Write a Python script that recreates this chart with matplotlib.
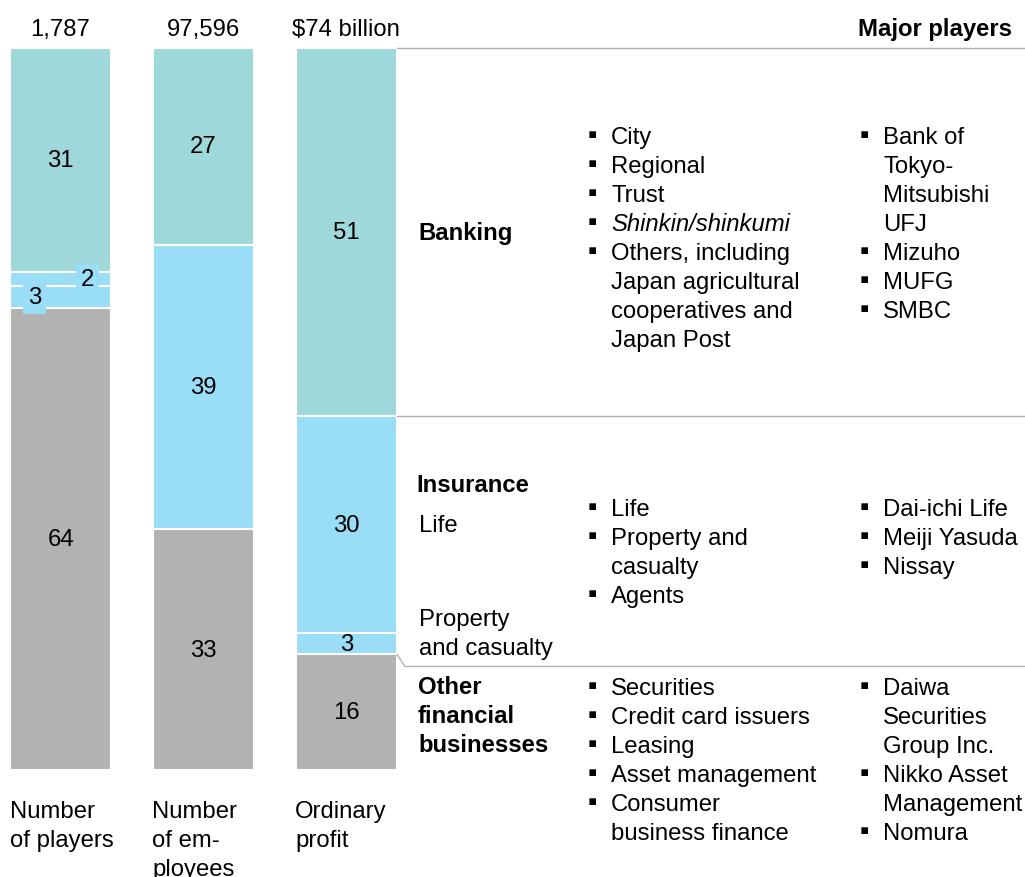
import matplotlib.pyplot as plt
import matplotlib.transforms as mtransforms

plt.rcParams['font.family'] = ['Liberation Sans', 'DejaVu Sans']

# Bar data (share of total, %), top to bottom
bar_labels = ['Number\nof players', 'Number\nof em-\nployees', 'Ordinary\nprofit']
bar_totals = ['1,787', '97,596', '$74 billion']
banking = [31, 27, 51]
insurance_life = [2, 39, 30]
insurance_pc = [3, 0, 3]
other = [64, 33, 16]

# Text columns
banking_items = ['City', 'Regional', 'Trust', 'Shinkin/shinkumi',
                 'Others, including\nJapan agricultural\ncooperatives and\nJapan Post']
banking_players = ['Bank of\nTokyo-\nMitsubishi\nUFJ', 'Mizuho', 'MUFG', 'SMBC']
insurance_items = ['Life', 'Property and\ncasualty', 'Agents']
insurance_players = ['Dai-ichi Life', 'Meiji Yasuda', 'Nissay']
other_items = ['Securities', 'Credit card issuers', 'Leasing', 'Asset management',
               'Consumer\nbusiness finance']
other_players = ['Daiwa\nSecurities\nGroup Inc.', 'Nikko Asset\nManagement', 'Nomura']

TEAL = '#9fd8da'
BLUE = '#99ddf6'
GRAY = '#b2b2b2'
LINE = '#b0b0b0'
FS = 17.2
STEP = 29

W, H = 1025, 877
fig = plt.figure(figsize=(W / 100, H / 100), dpi=100)

# bars axes, placed in pixels: x 10..397, y 48..770
bar_w = 0.709
ax_b = fig.add_axes([10 / W, (H - 770) / H, 387 / W, 722 / H])
ax_b.set_xlim(-bar_w / 2, 2 + bar_w / 2)
ax_b.set_ylim(100, 0)
ax_b.axis('off')

# overlay axes in pixel coordinates for text and rules
ax_t = fig.add_axes([0, 0, 1, 1])
ax_t.set_xlim(0, W)
ax_t.set_ylim(H, 0)
ax_t.axis('off')
ax_t.patch.set_alpha(0)

segments = [(banking, TEAL), (insurance_life, BLUE), (insurance_pc, BLUE), (other, GRAY)]
label_dx = {(0, 1): 27, (0, 2): -26}
cum_bar3 = []
for i in range(3):
    total = sum(s[0][i] for s in segments)
    bottom = 0
    for j, (vals, col) in enumerate(segments):
        v = vals[i]
        if v == 0:
            continue
        h = v / total * 100
        ax_b.bar(i, h, bottom=bottom, width=bar_w, color=col,
                 edgecolor='white', linewidth=1.5)
        tr = mtransforms.offset_copy(ax_b.transData, fig=fig,
                                     x=label_dx.get((i, j), 0), y=-7, units='dots')
        kw = {}
        if (i, j) in label_dx:
            kw['bbox'] = dict(boxstyle='square,pad=0.2', fc=col, ec='none')
        ax_b.text(i, bottom + h / 2, str(v), transform=tr, ha='center', va='baseline',
                  fontsize=FS, zorder=5, **kw)
        bottom += h
        if i == 2:
            cum_bar3.append(bottom)
    # totals above, category labels below
    ax_t.text(10 + 142.5 * i + 50.5, 36, bar_totals[i], ha='center', va='baseline', fontsize=FS)
    for k, line in enumerate(bar_labels[i].split('\n')):
        ax_t.text(10 + 142.5 * i, 818 + k * STEP, line, ha='left', va='baseline', fontsize=FS)


def to_px(yval):
    disp = ax_b.transData.transform((0, yval))
    return ax_t.transData.inverted().transform(disp)[1]


# horizontal rules to the right of the profit bar
x0 = 397
ax_t.plot([x0, W], [to_px(0)] * 2, color=LINE, lw=1)
ax_t.plot([x0, W], [to_px(banking[2])] * 2, color=LINE, lw=1)
y_ins = to_px(cum_bar3[2])
ax_t.plot([x0, x0 + 8, W], [y_ins, y_ins + 12, y_ins + 12], color=LINE, lw=1)

ax_t.text(1012, 36, 'Major players', ha='right', va='baseline', fontsize=FS, weight='bold')


def put_lines(x, y, text, **kw):
    for k, line in enumerate(text.split('\n')):
        ax_t.text(x, y + k * STEP, line, ha='left', va='baseline', fontsize=FS, **kw)


def bullets(xb, y, items, italic=()):
    for it in items:
        ax_t.text(xb, y - 1, '\u25aa', ha='center', va='baseline', fontsize=FS + 2)
        put_lines(xb + 19, y, it, style='italic' if it in italic else 'normal')
        y += STEP * len(it.split('\n'))


# Banking
put_lines(418, 240, 'Banking', weight='bold')
bullets(592, 144, banking_items, italic=('Shinkin/shinkumi',))
bullets(864, 144, banking_players)

# Insurance
put_lines(416, 492, 'Insurance', weight='bold')
put_lines(419, 532, 'Life')
put_lines(419, 626, 'Property\nand casualty')
bullets(592, 516, insurance_items)
bullets(864, 516, insurance_players)

# Other financial businesses
put_lines(418, 694, 'Other\nfinancial\nbusinesses', weight='bold')
bullets(592, 695, other_items)
bullets(864, 695, other_players)

fig.savefig('out.png', dpi=100)
